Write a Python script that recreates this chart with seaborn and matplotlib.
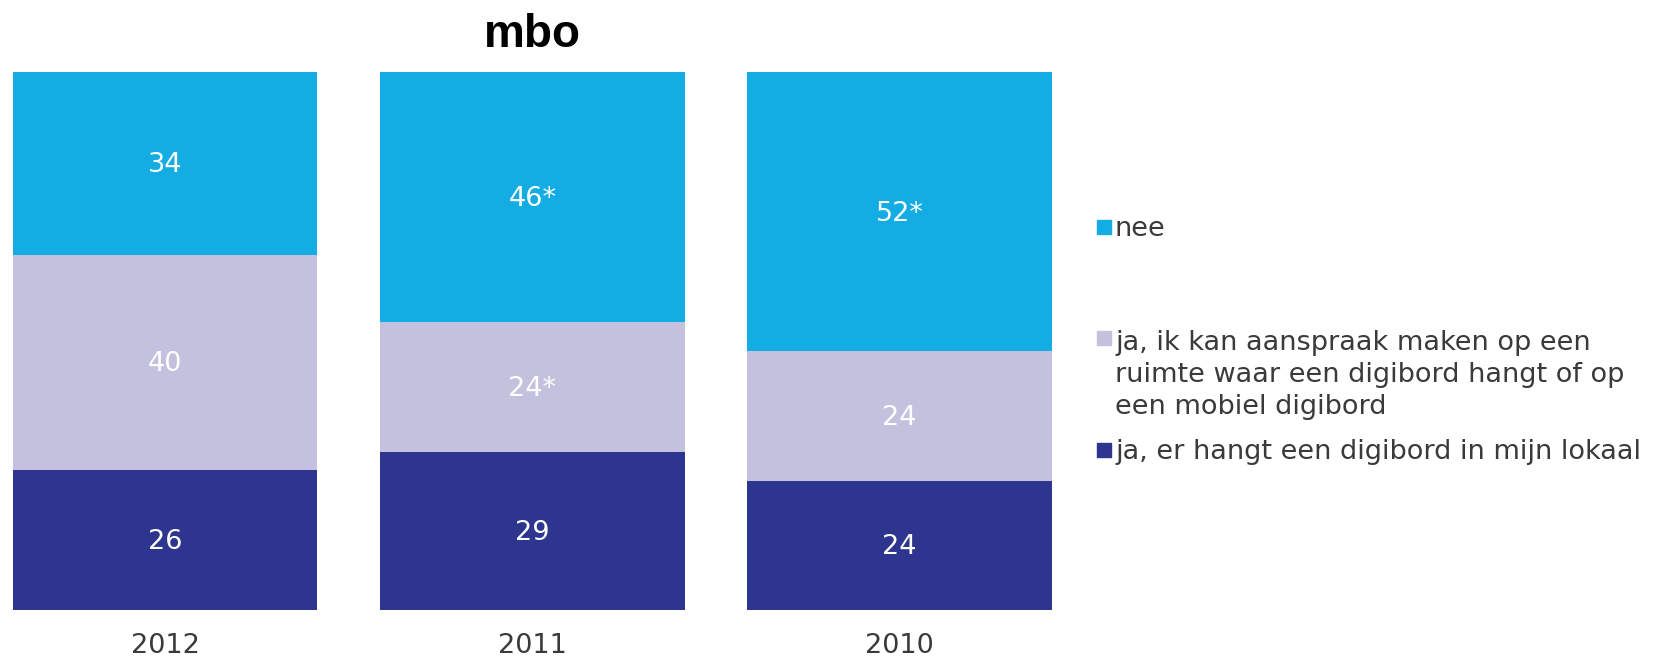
import numpy as np
import pandas as pd
import seaborn as sns
import matplotlib.pyplot as plt
from matplotlib.patches import Rectangle

years = ["2012", "2011", "2010"]
in_lokaal = [26, 29, 24]
aanspraak = [40, 24, 24]
nee = [34, 46, 52]
lbl_lokaal = ["26", "29", "24"]
lbl_aanspraak = ["40", "24*", "24"]
lbl_nee = ["34", "46*", "52*"]

legend_labels = ["nee",
                 "ja, ik kan aanspraak maken op een\nruimte waar een digibord hangt of op\neen mobiel digibord",
                 "ja, er hangt een digibord in mijn lokaal"]
colors = ["#13ACE3", "#C4C1DF", "#2E358F"]

df = pd.DataFrame({"jaar": years, "lokaal": in_lokaal, "aanspraak": aanspraak, "nee": nee})
total = df[["lokaal", "aanspraak", "nee"]].sum(axis=1)
# bars are shown as 100% each
for c in ["lokaal", "aanspraak", "nee"]:
    df[c + "_pct"] = df[c] / total * 100
df["c1"] = df["lokaal_pct"]
df["c2"] = df["c1"] + df["aanspraak_pct"]
df["c3"] = df["c2"] + df["nee_pct"]

sns.set_style("white")
plt.rcParams["font.family"] = ["DejaVu Sans"]
fig = plt.figure(figsize=(16.54, 6.57), dpi=100)
ax = fig.add_axes([0.00768, 0.072, 0.6282, 0.819])

w = 0.83
for col, color in zip(["c3", "c2", "c1"], colors):
    sns.barplot(data=df, x="jaar", y=col, order=years, color=color, saturation=1,
                width=w, linewidth=0, errorbar=None, ax=ax)

fs = 19.5
for i in range(len(years)):
    segs = [(0, df["c1"][i], lbl_lokaal[i]),
            (df["c1"][i], df["c2"][i], lbl_aanspraak[i]),
            (df["c2"][i], df["c3"][i], lbl_nee[i])]
    for lo, hi, t in segs:
        ax.text(i, (lo + hi) / 2 - 0.4, t, ha="center", va="center", color="white",
                fontsize=fs)

ax.set_xlim(-w / 2, len(years) - 1 + w / 2)
ax.set_ylim(0, 100)
ax.set_xlabel("")
ax.set_ylabel("")
ax.set_yticks([])
ax.tick_params(axis="x", length=0, pad=17, labelsize=fs, labelcolor="#3a3a3a")
for s in ax.spines.values():
    s.set_visible(False)
ax.set_title("mbo", fontsize=33, fontweight="bold", family=["Liberation Sans", "DejaVu Sans"],
             color="black", pad=18)

# legend drawn by hand
sq_x, txt_x = 0.6632, 0.6741
sq_w, sq_h = 14 / 1654, 14 / 657
rows = [(0.6548, 0.6518), (0.4862, 0.4290), (0.3144, 0.3114)]
for (sq_y, txt_y), lab, color in zip(rows, legend_labels, colors):
    fig.patches.append(Rectangle((sq_x, sq_y - sq_h / 2), sq_w, sq_h, color=color,
                                 transform=fig.transFigure, figure=fig))
    fig.text(txt_x, txt_y, lab, ha="left", va="center", fontsize=fs,
             color="#3a3a3a", linespacing=1.3)

fig.savefig("out.png", dpi=100)
